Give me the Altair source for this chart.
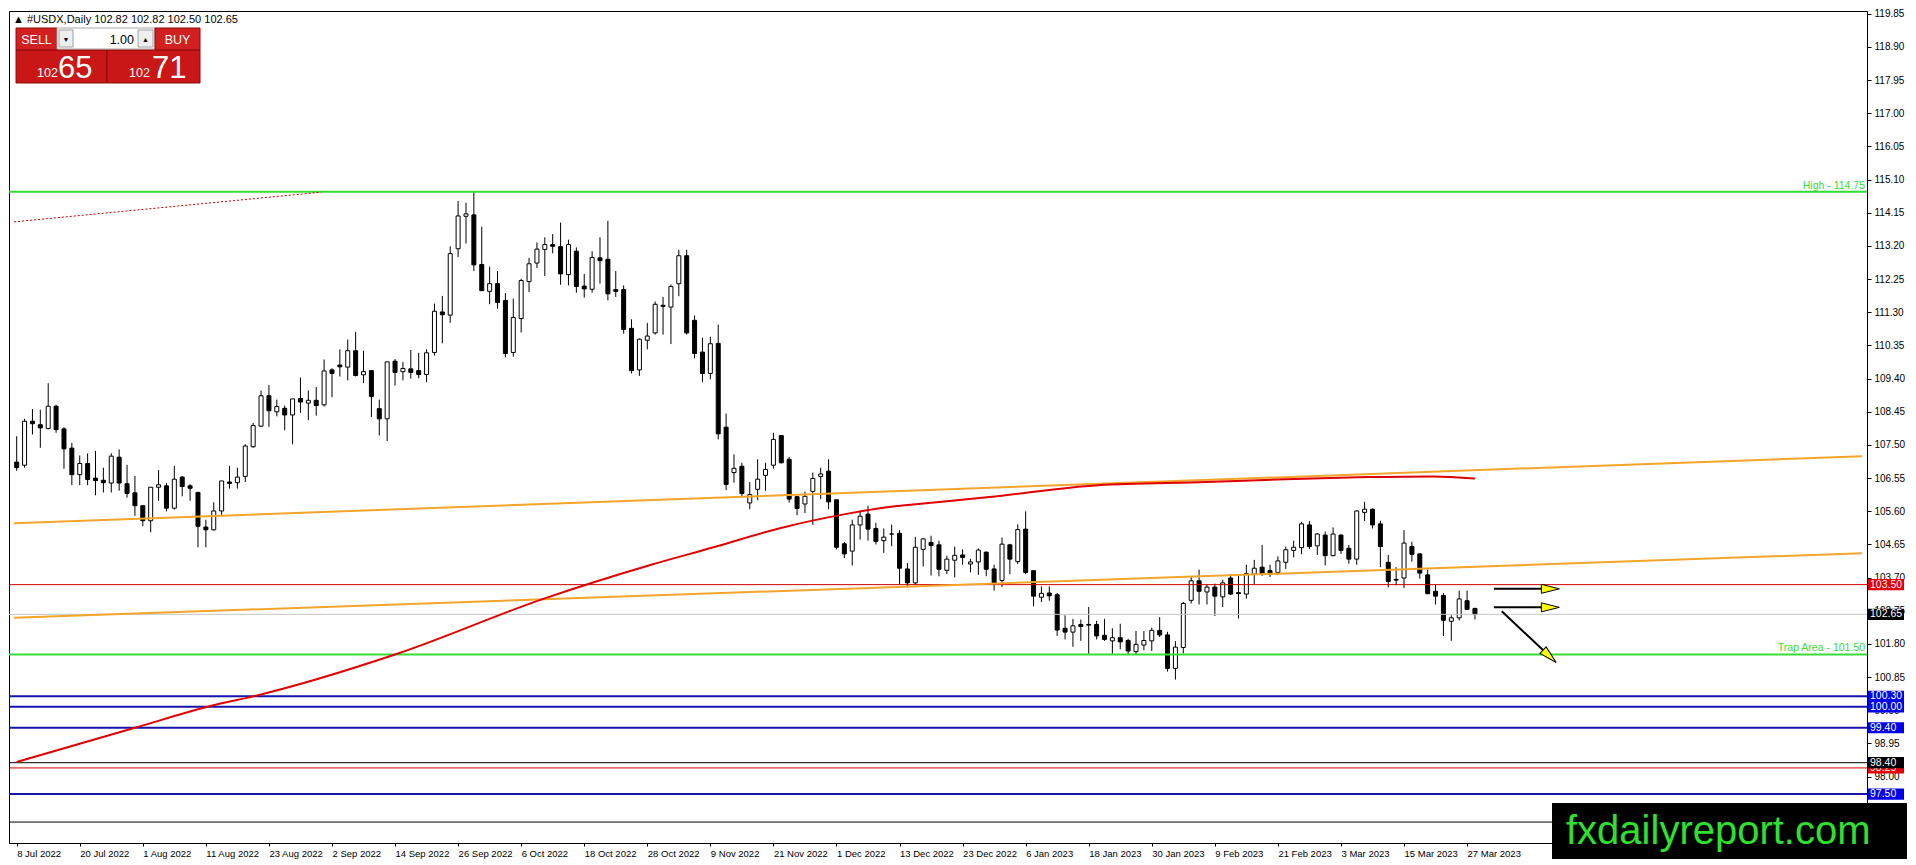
import math
import altair as alt
import pandas as pd

# ---------------- data ----------------
opens = [107.01, 106.92, 108.18, 108.08, 107.97, 108.61, 107.96, 107.41, 106.65, 106.97,
         106.55, 106.49, 106.41, 107.15, 106.39, 106.13, 105.76, 105.33, 106.29, 106.33,
         105.69, 106.58, 106.33, 106.14, 105.15, 105.07, 105.61, 106.44, 106.42, 106.60,
         107.45, 108.04, 108.91, 108.45, 108.55, 108.36, 108.83, 108.70, 108.78, 108.65,
         109.65, 109.79, 109.73, 110.20, 109.51, 109.63, 108.54, 108.25, 109.90, 109.60,
         109.68, 109.63, 109.52, 110.15, 111.31, 111.22, 113.12, 114.05, 114.09, 112.67,
         111.90, 112.12, 111.64, 110.15, 111.12, 112.18, 112.71, 113.10, 113.24, 113.18,
         112.38, 113.05, 112.05, 111.96, 112.86, 112.82, 111.95, 111.95, 110.84, 109.65,
         110.50, 110.71, 111.50, 111.45, 112.12, 112.92, 111.07, 110.16, 109.55, 110.41,
         108.01, 106.71, 106.89, 105.84, 106.23, 106.63, 106.92, 107.77, 107.09, 106.02,
         105.81, 106.17, 106.60, 106.75, 105.93, 104.67, 104.46, 105.21, 105.52, 105.11,
         104.76, 104.95, 104.97, 103.95, 103.55, 104.51, 104.71, 104.64, 103.91, 104.20,
         104.35, 104.09, 104.15, 104.43, 103.95, 103.62, 104.64, 104.16, 105.09, 103.90,
         103.14, 103.26, 103.21, 102.25, 102.14, 102.36, 102.36, 102.36, 102.05, 101.89,
         101.98, 101.90, 101.58, 101.77, 101.89, 102.19, 102.06, 101.10, 101.70, 103.05,
         103.61, 103.29, 103.43, 103.15, 103.69, 103.27, 103.23, 103.80, 104.00, 103.90,
         103.85, 104.14, 104.48, 104.56, 105.21, 104.61, 104.92, 104.33, 104.92, 104.54,
         104.23, 105.57, 105.66, 105.24, 104.14, 103.65, 103.69, 104.59, 104.38, 103.78,
         103.31, 103.19, 102.45, 102.55, 103.04, 102.82]
highs = [107.75, 108.25, 108.53, 108.51, 109.27, 108.65, 108.01, 107.56, 107.20, 107.26,
         107.33, 106.85, 107.26, 107.37, 106.93, 106.61, 105.76, 106.29, 106.78, 106.41,
         106.90, 106.61, 106.38, 106.16, 105.36, 105.86, 106.47, 106.90, 106.85, 107.52,
         108.13, 109.06, 109.22, 108.80, 108.63, 108.82, 109.43, 109.06, 109.16, 109.95,
         109.70, 110.24, 110.52, 110.74, 110.20, 109.63, 108.80, 109.88, 109.96, 109.88,
         110.22, 110.14, 110.24, 111.55, 111.77, 113.19, 114.49, 114.44, 114.75, 113.75,
         112.61, 112.48, 111.85, 111.69, 112.26, 112.86, 113.30, 113.45, 113.54, 113.87,
         113.38, 113.16, 112.40, 113.05, 113.45, 113.92, 112.48, 112.07, 111.10, 110.55,
         111.00, 111.61, 111.74, 112.10, 113.09, 113.09, 111.21, 110.57, 110.60, 110.95,
         108.40, 107.23, 106.99, 106.44, 107.09, 106.99, 107.85, 107.77, 107.16, 106.04,
         106.16, 106.71, 106.85, 107.09, 105.93, 104.72, 105.36, 105.62, 105.76, 105.27,
         105.11, 105.22, 105.06, 104.12, 104.87, 104.83, 104.90, 104.76, 104.33, 104.59,
         104.51, 104.24, 104.54, 104.45, 104.07, 104.85, 104.67, 105.23, 105.60, 103.90,
         103.45, 103.45, 103.26, 102.62, 102.52, 102.50, 102.86, 102.46, 102.52, 102.25,
         102.38, 101.95, 102.17, 102.17, 102.27, 102.57, 102.15, 101.88, 103.00, 103.74,
         103.93, 103.50, 103.53, 103.64, 103.80, 103.80, 104.07, 104.21, 104.64, 104.07,
         104.31, 104.59, 104.76, 105.30, 105.32, 104.98, 105.02, 105.14, 104.94, 104.64,
         105.63, 105.87, 105.68, 105.33, 104.35, 104.00, 105.06, 104.73, 104.40, 103.93,
         103.50, 103.26, 102.62, 103.33, 103.33, 102.82]
lows = [106.76, 106.85, 107.80, 107.42, 107.95, 107.85, 106.82, 106.35, 106.35, 106.35,
        106.06, 106.14, 106.14, 106.19, 105.99, 105.47, 105.17, 105.00, 105.90, 105.60,
        105.65, 106.03, 105.90, 104.57, 104.57, 105.05, 105.48, 106.25, 106.25, 106.44,
        107.42, 108.02, 108.02, 108.32, 107.92, 107.52, 108.42, 108.21, 108.34, 108.60,
        108.87, 109.46, 109.35, 109.46, 109.27, 108.30, 107.77, 107.61, 109.20, 109.35,
        109.40, 109.41, 109.30, 110.06, 110.41, 111.00, 112.88, 113.27, 112.48, 111.91,
        111.53, 111.40, 110.01, 110.03, 110.72, 111.88, 112.57, 112.34, 112.99, 112.09,
        112.07, 111.86, 111.72, 111.86, 112.12, 111.64, 111.74, 110.69, 109.55, 109.48,
        110.24, 110.66, 110.66, 110.39, 111.76, 110.66, 109.98, 109.30, 109.38, 107.66,
        106.21, 106.42, 106.03, 105.66, 105.92, 106.19, 106.82, 106.97, 105.85, 105.49,
        105.55, 105.21, 105.95, 105.66, 104.51, 104.26, 104.05, 104.79, 104.76, 104.65,
        104.41, 104.60, 103.52, 103.42, 103.50, 104.02, 103.76, 103.74, 103.80, 103.71,
        104.07, 103.85, 103.78, 103.74, 103.33, 103.43, 103.80, 104.09, 103.80, 102.88,
        103.00, 103.04, 102.03, 101.93, 101.72, 101.89, 101.52, 101.93, 101.89, 101.52,
        101.65, 101.51, 101.49, 101.62, 101.60, 102.00, 101.01, 100.78, 101.53, 102.96,
        102.93, 102.93, 102.60, 102.86, 103.20, 102.53, 103.10, 103.50, 103.75, 103.72,
        103.78, 103.95, 104.28, 104.37, 104.52, 104.35, 104.05, 104.31, 104.38, 104.10,
        104.07, 105.32, 105.11, 104.00, 103.42, 103.48, 103.40, 104.16, 103.67, 103.23,
        102.93, 102.03, 101.89, 102.47, 102.77, 102.50]
closes = [106.85, 108.18, 108.11, 107.99, 108.61, 107.94, 107.39, 106.65, 106.97, 106.51,
          106.48, 106.42, 107.18, 106.41, 106.11, 105.76, 105.33, 106.29, 106.36, 105.69,
          106.52, 106.31, 106.26, 105.17, 105.07, 105.61, 106.47, 106.40, 106.58, 107.47,
          108.06, 108.91, 108.48, 108.60, 108.36, 108.82, 108.73, 108.78, 108.63, 109.62,
          109.55, 109.74, 110.20, 109.49, 109.60, 108.89, 108.25, 109.88, 109.58, 109.69,
          109.58, 109.52, 110.14, 111.33, 111.23, 112.98, 114.06, 114.12, 112.66, 111.92,
          112.12, 111.58, 110.12, 111.15, 112.21, 112.69, 113.11, 113.24, 113.19, 112.40,
          113.24, 112.04, 111.97, 112.87, 112.78, 111.83, 111.90, 110.81, 109.63, 110.53,
          110.62, 111.53, 111.47, 112.04, 112.92, 110.71, 110.12, 109.55, 110.40, 107.82,
          106.37, 106.83, 106.11, 106.08, 106.52, 106.80, 107.66, 106.99, 105.95, 105.68,
          106.03, 106.54, 106.67, 105.87, 104.57, 104.38, 105.21, 105.46, 105.09, 104.74,
          104.86, 104.95, 103.97, 103.55, 104.57, 104.81, 104.62, 103.94, 104.23, 104.34,
          104.28, 104.15, 104.49, 103.94, 103.52, 104.66, 104.23, 105.08, 103.85, 103.17,
          103.25, 103.18, 102.20, 102.14, 102.32, 102.30, 102.34, 102.03, 101.93, 101.98,
          101.86, 101.60, 101.79, 101.90, 102.19, 102.06, 101.10, 101.71, 102.96, 103.61,
          103.31, 103.43, 103.17, 103.55, 103.23, 103.24, 103.82, 103.97, 103.81, 103.81,
          104.18, 104.50, 104.57, 105.24, 104.59, 104.95, 104.33, 104.95, 104.48, 104.23,
          105.61, 105.66, 105.21, 104.59, 103.59, 103.63, 104.69, 104.37, 103.83, 103.24,
          103.17, 102.48, 102.55, 103.09, 102.79, 102.65]

date_labels = ["8 Jul 2022", "20 Jul 2022", "1 Aug 2022", "11 Aug 2022", "23 Aug 2022",
               "2 Sep 2022", "14 Sep 2022", "26 Sep 2022", "6 Oct 2022", "18 Oct 2022",
               "28 Oct 2022", "9 Nov 2022", "21 Nov 2022", "1 Dec 2022", "13 Dec 2022",
               "23 Dec 2022", "6 Jan 2023", "18 Jan 2023", "30 Jan 2023", "9 Feb 2023",
               "21 Feb 2023", "3 Mar 2023", "15 Mar 2023", "27 Mar 2023"]
label_step = 8

price_ticks = [119.85, 118.90, 117.95, 117.00, 116.05, 115.10, 114.15, 113.20, 112.25,
               111.30, 110.35, 109.40, 108.45, 107.50, 106.55, 105.60, 104.65, 103.70,
               102.75, 101.80, 100.85, 99.90, 98.95, 98.00, 97.05]

ma_idx = [0, 15, 24.7, 30, 48, 66.9, 80.5, 88.4, 96.7, 105.1, 110.9, 113.4, 123.4, 137.2,
          150.9, 160.9, 171.3, 179.7, 185]
ma_val = [98.42, 99.40, 100.03, 100.30, 101.50, 103.10, 104.07, 104.57, 105.11, 105.52,
          105.73, 105.79, 106.01, 106.35, 106.44, 106.52, 106.58, 106.60, 106.54]

# trend lines (start bar, start price, end bar, end price)
trend_x0 = [-0.34, -0.34, -0.34]
trend_y0 = [105.26, 102.55, 113.89]
trend_x1 = [234.1, 234.1, 38.6]
trend_y1 = [107.18, 104.40, 114.74]
trend_col = ["#f2a52a", "#f2a52a", "#c00000"]

levels = [114.75, 103.50, 102.65, 101.50, 100.30, 100.00, 99.40, 98.40, 98.25, 97.50, 96.70]
level_col = ["#36dc36", "#d00000", "#c4c4c4", "#36dc36", "#1515aa", "#1515aa", "#1515aa",
             "#000000", "#d00000", "#1515aa", "#000000"]
level_w = [2, 1, 1, 2, 2, 2, 2, 1, 1, 2, 1]

level_text_price = [114.75, 101.50]
level_text = ["High - 114.75", "Trap Area - 101.50"]

tag_price = [103.50, 102.65, 100.30, 100.00, 99.40, 98.25, 97.50, 98.40]
tag_col = ["#e80000", "#000000", "#0000ee", "#0000ee", "#0000ee", "#e80000", "#0000ee", "#000000"]

arrow_x0 = [187.4, 187.4, 188.4]
arrow_y0 = [103.38, 102.85, 102.74]
arrow_x1 = [195.7, 195.7, 195.3]
arrow_y1 = [103.38, 102.85, 101.27]

header = "\u25b2 #USDX,Daily  102.82 102.82 102.50 102.65"
sell_big, buy_big, price_small = "65", "71", "102"
lot = "1.00"
watermark = "fxdailyreport.com"

# ---------------- layout ----------------
W, H = 1858, 832
x_dom = [-0.34, 234.1]
y_dom = [96.10, 119.93]
px_bar = W / (x_dom[1] - x_dom[0])
px_unit = H / (y_dom[1] - y_dom[0])
FONT = "Liberation Sans"

xs = alt.Scale(domain=x_dom, nice=False, zero=False)
ys = alt.Scale(domain=y_dom, nice=False, zero=False)

label_arr = "[" + ",".join("'" + s + "'" for s in date_labels) + "]"
x_axis = alt.Axis(values=[k * label_step for k in range(len(date_labels))],
                  labelExpr=label_arr + "[round(datum.value/" + str(label_step) + ")]",
                  title=None, grid=False, tickSize=3, labelAlign="left", labelPadding=2,
                  labelFont=FONT, labelFontSize=9.5, labelColor="black",
                  domainColor="black", tickColor="black", labelOverlap=False,
                  labelFlush=False)
y_axis = alt.Axis(orient="right", values=price_ticks, format=".2f", title=None, grid=False,
                  tickSize=4, labelPadding=3, labelFont=FONT, labelFontSize=10,
                  labelColor="black", domainColor="black", tickColor="black",
                  labelOverlap=False, labelFlush=False)


def X(f):
    return alt.X(f, type="quantitative", scale=xs, axis=x_axis)


def Y(f):
    return alt.Y(f, type="quantitative", scale=ys, axis=y_axis)


n = len(opens)
candles = pd.DataFrame({"i": list(range(n)), "o": opens, "h": highs, "l": lows, "c": closes})

wicks = alt.Chart(candles).mark_rule(color="black", strokeWidth=1).encode(
    x=X("i"), y=Y("l"), y2="h")
bodies = alt.Chart(candles).mark_bar(size=4, stroke="black", strokeWidth=1).encode(
    x=X("i"), y=Y("o"), y2="c",
    fill=alt.condition("datum.c >= datum.o", alt.value("white"), alt.value("black")))

lev_df = pd.DataFrame({"p": levels, "col": level_col, "w": level_w})
lev = alt.Chart(lev_df).mark_rule().encode(
    y=Y("p"), color=alt.Color("col", type="nominal", scale=None),
    strokeWidth=alt.StrokeWidth("w", type="quantitative", scale=None))

tr_df = pd.DataFrame({"x0": trend_x0[:2], "y0": trend_y0[:2], "x1": trend_x1[:2],
                      "y1": trend_y1[:2], "col": trend_col[:2]})
trend = alt.Chart(tr_df).mark_rule(strokeWidth=2).encode(
    x=X("x0"), x2="x1", y=Y("y0"), y2="y1", color=alt.Color("col", type="nominal", scale=None))
dot_df = pd.DataFrame({"x0": trend_x0[2:], "y0": trend_y0[2:], "x1": trend_x1[2:],
                       "y1": trend_y1[2:], "col": trend_col[2:]})
dotted = alt.Chart(dot_df).mark_rule(strokeWidth=1, strokeDash=[2, 2]).encode(
    x=X("x0"), x2="x1", y=Y("y0"), y2="y1", color=alt.Color("col", type="nominal", scale=None))

ma_df = pd.DataFrame({"i": ma_idx, "v": ma_val})
ma = alt.Chart(ma_df).mark_line(color="#e00000", strokeWidth=2, interpolate="monotone").encode(
    x=X("i"), y=Y("v"))

lt_df = pd.DataFrame({"p": level_text_price, "t": level_text})
lev_text = alt.Chart(lt_df).mark_text(align="right", baseline="bottom", dy=-1, font=FONT,
                                      fontSize=10.5, color="#36dc36").encode(
    x=alt.value(W - 2), y=Y("p"), text="t")

# arrows
rows = []
head = 18.0
for x0, y0, x1, y1 in zip(arrow_x0, arrow_y0, arrow_x1, arrow_y1):
    dxp = (x1 - x0) * px_bar
    dyp = -(y1 - y0) * px_unit
    L = math.hypot(dxp, dyp)
    ux, uy = dxp / L, dyp / L
    cx = x1 - ux * (head / 2) / px_bar
    cy = y1 + uy * (head / 2) / px_unit
    ang = math.degrees(math.atan2(dyp, dxp)) % 360
    rows.append({"x0": x0, "y0": y0, "cx": cx, "cy": cy, "ang": ang})
ar_df = pd.DataFrame(rows)
ar_lines = alt.Chart(ar_df).mark_rule(color="black", strokeWidth=2).encode(
    x=X("x0"), x2="cx", y=Y("y0"), y2="cy")
ar_heads = alt.Chart(ar_df).mark_point(shape="M-1,-0.5L1,0L-1,0.5Z", size=head * head,
                                       filled=True, fill="#ffff00", stroke="black",
                                       strokeWidth=1, opacity=1).encode(
    x=X("cx"), y=Y("cy"), angle=alt.Angle("ang", type="quantitative", scale=None))

# axis price tags
tag_df = pd.DataFrame({"p": tag_price, "col": tag_col})
tag_df["lo"] = tag_df["p"] - 0.16
tag_df["hi"] = tag_df["p"] + 0.16
back = tag_df.iloc[:-1]
front = tag_df.iloc[-1:]


def tag_layers(d):
    r = alt.Chart(d).mark_rect().encode(
        x=alt.value(W + 1), x2=alt.value(W + 37), y=Y("lo"), y2="hi",
        color=alt.Color("col", type="nominal", scale=None))
    t = alt.Chart(d).mark_text(align="left", baseline="middle", font=FONT, fontSize=10.5,
                               color="white").encode(
        x=alt.value(W + 3), y=Y("p"), text=alt.Text("p", type="quantitative", format=".2f"))
    return [r, t]


dummy = pd.DataFrame({"a": [0]})


def box(x, x2, y, y2, fill, stroke=None, sw=1):
    kw = {"fill": fill}
    if stroke:
        kw.update(stroke=stroke, strokeWidth=sw)
    return alt.Chart(dummy).mark_rect(**kw).encode(
        x=alt.value(x), x2=alt.value(x2), y=alt.value(y), y2=alt.value(y2))


def txt(s, x, y, size, color="white", align="left", weight="normal"):
    return alt.Chart(dummy).mark_text(text=s, align=align, baseline="alphabetic", font=FONT,
                                      fontSize=size, color=color, fontWeight=weight).encode(
        x=alt.value(x), y=alt.value(y))


RED = "#d21f1f"
DRED = "#8e0b0b"
widget = [
    txt(header, 4, 12, 11, color="black"),
    box(7, 48, 17, 39, RED, DRED),
    box(48, 146, 17, 38, "white", "#a8a8a8"),
    box(50, 64, 19, 36, "#efefef", "#a0a0a0"),
    box(129, 144, 19, 36, "#efefef", "#a0a0a0"),
    box(146, 191, 17, 39, RED, DRED),
    box(7, 98, 39, 72, "#c91616", DRED),
    box(98, 191, 39, 72, "#c91616", DRED),
    txt("\u25bc", 57, 31, 7, color="black", align="center"),
    txt("\u25b2", 136.5, 31, 7, color="black", align="center"),
    txt(lot, 125, 33, 12.5, color="black", align="right"),
    txt("SELL", 27.5, 33, 12.5, align="center"),
    txt("BUY", 168.5, 33, 12.5, align="center"),
    txt(price_small, 28, 66, 12.5),
    txt(sell_big, 49, 67, 31),
    txt(price_small, 120, 66, 12.5),
    txt(buy_big, 143, 67, 31),
]

wm = [
    box(1543, 1898, 792, 848, "black"),
    txt(watermark, 1557, 833, 40, color="#2fe02f"),
]

layers = ([wicks, bodies, lev, trend, dotted, ma, lev_text, ar_lines, ar_heads]
          + tag_layers(back) + tag_layers(front) + widget + wm)

chart = alt.layer(*layers).properties(
    width=W, height=H, padding=0, background="white"
).configure_view(stroke="black", strokeWidth=1)

chart.save("out.html", embed_options={"renderer": "svg", "actions": False})
